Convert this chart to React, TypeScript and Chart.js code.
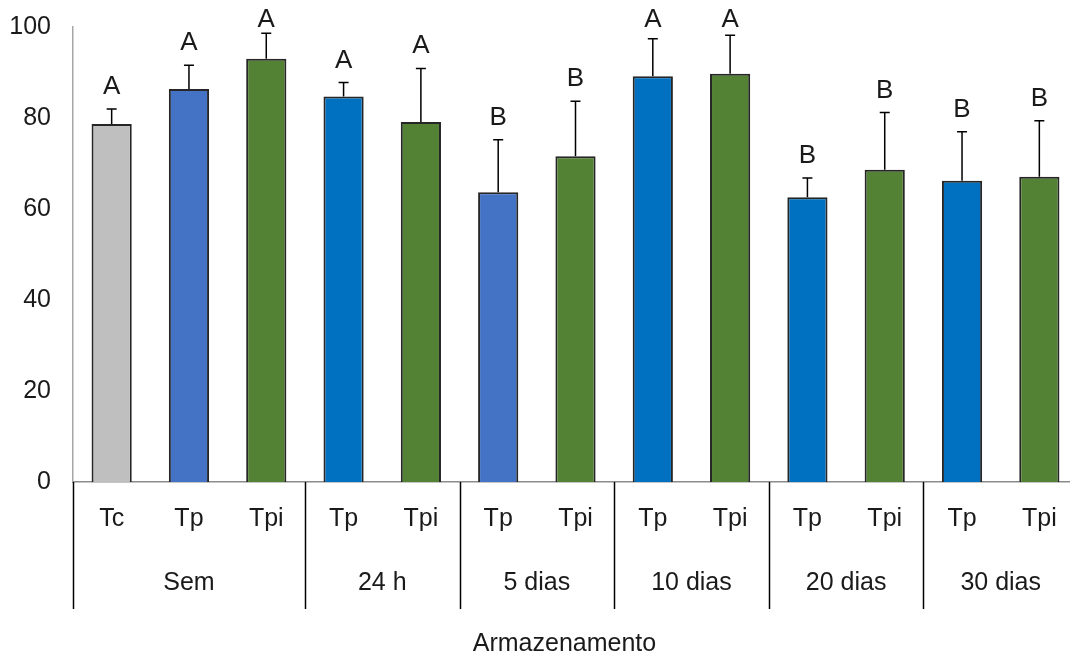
import React, { useEffect, useRef } from "react";
import { Chart, registerables } from "chart.js";

Chart.register(...registerables);

const categories = ["Tc", "Tp", "Tpi", "Tp", "Tpi", "Tp", "Tpi", "Tp", "Tpi", "Tp", "Tpi", "Tp", "Tpi"];
const groups = ["Sem", "24 h", "5 dias", "10 dias", "20 dias", "30 dias"];
const groupSizes = [3, 2, 2, 2, 2, 2];
const means = [78.7, 86.4, 93.0, 84.7, 79.1, 63.7, 71.6, 89.2, 89.7, 62.6, 68.6, 66.2, 67.1];
const errors = [3.3, 5.2, 5.6, 3.1, 11.8, 11.5, 12.1, 8.2, 8.5, 4.2, 12.6, 10.8, 12.3];
const letters = ["A", "A", "A", "A", "A", "B", "B", "A", "A", "B", "B", "B", "B"];
const yTicks = [0, 20, 40, 60, 80, 100];
const axisTitle = "Armazenamento";

const GRAY = "#BFBFBF";
const LBLUE = "#4472C4";
const DBLUE = "#0070C0";
const GREEN = "#548235";
const barColors = [GRAY, LBLUE, GREEN, DBLUE, GREEN, LBLUE, GREEN, DBLUE, GREEN, DBLUE, GREEN, DBLUE, GREEN];

const FONT = "'Liberation Sans', Arial, sans-serif";
const TEXT = "#1a1a1a";

const overlayPlugin = {
  id: "overlay",
  afterDatasetsDraw(chart: any) {
    const ctx = chart.ctx;
    const x = chart.scales.x;
    const y = chart.scales.y;
    const area = chart.chartArea;
    const slot = (area.right - area.left) / categories.length;
    ctx.save();
    // error bars
    ctx.strokeStyle = "#000000";
    ctx.lineWidth = 1.5;
    means.forEach((m, i) => {
      const px = x.getPixelForValue(i);
      const y0 = y.getPixelForValue(m);
      const y1 = y.getPixelForValue(m + errors[i]);
      ctx.beginPath();
      ctx.moveTo(px, y0);
      ctx.lineTo(px, y1);
      ctx.moveTo(px - 5, y1);
      ctx.lineTo(px + 5, y1);
      ctx.stroke();
      ctx.fillStyle = TEXT;
      ctx.font = `26px ${FONT}`;
      ctx.textAlign = "center";
      ctx.textBaseline = "alphabetic";
      ctx.fillText(letters[i], px, Math.max(y1 - 15, area.top));
    });
    // category labels
    const base = area.bottom;
    ctx.font = `25px ${FONT}`;
    ctx.textAlign = "center";
    ctx.textBaseline = "middle";
    ctx.fillStyle = TEXT;
    categories.forEach((c, i) => {
      ctx.fillText(c, x.getPixelForValue(i), base + 37);
    });
    // separators + group labels
    ctx.strokeStyle = "#000000";
    ctx.lineWidth = 1.5;
    let idx = 0;
    const drawSep = (px: number) => {
      ctx.beginPath();
      ctx.moveTo(px, base);
      ctx.lineTo(px, base + 127);
      ctx.stroke();
    };
    groups.forEach((g, gi) => {
      const start = x.getPixelForValue(idx) - slot / 2;
      const end = x.getPixelForValue(idx + groupSizes[gi] - 1) + slot / 2;
      drawSep(Math.round(start) + 0.5);
      if (gi === groups.length - 1) drawSep(Math.round(end) + 0.5);
      ctx.fillText(g, (start + end) / 2, base + 101);
      idx += groupSizes[gi];
    });
    // axis title
    ctx.fillText(axisTitle, (area.left + area.right) / 2 - 11, base + 162);
    ctx.restore();
  },
};

export default function App() {
  const ref = useRef<HTMLCanvasElement | null>(null);
  useEffect(() => {
    document.body.style.margin = "0";
    document.body.style.overflow = "hidden";
    const chart = new Chart(ref.current as HTMLCanvasElement, {
      type: "bar",
      data: {
        labels: categories,
        datasets: [
          {
            data: means,
            backgroundColor: barColors,
            borderColor: "#262626",
            borderWidth: 2,
            categoryPercentage: 1,
            barPercentage: 0.52,
          },
        ],
      },
      options: {
        animation: false,
        responsive: false,
        maintainAspectRatio: false,
        layout: { padding: { top: 27, right: 2, left: 0, bottom: 0 } },
        plugins: { legend: { display: false }, tooltip: { enabled: false } },
        scales: {
          x: {
            type: "category",
            grid: { display: false, drawTicks: false },
            border: { display: true, color: "#8C8C8C", width: 1.5 },
            ticks: { display: false },
            afterFit: (s: any) => {
              s.height = 176;
            },
          },
          y: {
            min: 0,
            max: 100,
            afterBuildTicks: (s: any) => {
              s.ticks = yTicks.map((v) => ({ value: v }));
            },
            grid: { display: false, drawTicks: false },
            border: { display: true, color: "#A6A6A6", width: 1.5 },
            ticks: {
              padding: 22,
              color: TEXT,
              font: { size: 25, family: FONT },
            },
            afterFit: (s: any) => {
              s.width = 73;
              s.paddingTop = 0;
              s.paddingBottom = 0;
            },
          },
        },
      },
      plugins: [overlayPlugin],
    });
    return () => chart.destroy();
  }, []);
  return (
    <div style={{ position: "fixed", left: 0, top: 0, width: 1080, height: 658 }}>
      <canvas ref={ref} width={1080} height={658} style={{ display: "block" }} />
    </div>
  );
}
